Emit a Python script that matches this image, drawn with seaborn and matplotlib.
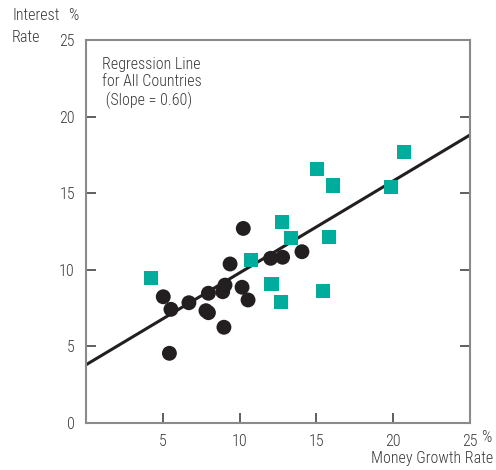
import matplotlib
matplotlib.use("Agg")
import matplotlib.pyplot as plt
import seaborn as sns
import numpy as np
import pandas as pd

# Data
circle_x = [10.24, 5.03, 5.53, 6.7, 7.97, 7.81, 7.97, 8.98, 5.43, 9.38, 9.05, 8.9, 10.16, 10.55, 12.02, 12.8, 14.06]
circle_y = [12.7, 8.24, 7.42, 7.85, 8.47, 7.33, 7.2, 6.25, 4.55, 10.38, 9.0, 8.57, 8.86, 8.03, 10.75, 10.82, 11.18]
square_x = [4.23, 10.74, 12.07, 12.72, 12.78, 13.37, 15.06, 16.1, 15.82, 15.45, 19.88, 20.72]
square_y = [9.46, 10.64, 9.07, 7.9, 13.12, 12.06, 16.56, 15.5, 12.12, 8.6, 15.39, 17.67]
reg_intercept = 3.8
reg_slope = 0.60
x_ticks = [5, 10, 15, 20, 25]
x_tick_labels = ["5", "10", "15", "20", "25"]
y_ticks = [0, 5, 10, 15, 20, 25]

sns.set_style("white")
plt.rcParams['font.family'] = ['Roboto Condensed', 'DejaVu Sans']
plt.rcParams['font.weight'] = 'light'

text_color = "#3a3a3a"
spine_color = "#8a8a8a"
fs = 11.5

fig = plt.figure(figsize=(4.96, 4.70), dpi=100)
ax = fig.add_axes([86/496, 47/470, 384/496, 383/470])

df_c = pd.DataFrame({"x": circle_x, "y": circle_y})
df_s = pd.DataFrame({"x": square_x, "y": square_y})

line_x = np.array([0, 25])
df_l = pd.DataFrame({"x": line_x, "y": reg_intercept + reg_slope * line_x})
sns.lineplot(data=df_l, x="x", y="y", ax=ax, color="#231f20", linewidth=2.2, zorder=2)
sns.scatterplot(data=df_c, x="x", y="y", ax=ax, color="#231f20", marker="o", s=115,
                edgecolor="none", zorder=3)
sns.scatterplot(data=df_s, x="x", y="y", ax=ax, color="#00ad9c", marker="s", s=105,
                edgecolor="none", zorder=3)

ax.set_xlim(0, 25)
ax.set_ylim(0, 25)
ax.set_xticks(x_ticks)
ax.set_xticklabels(x_tick_labels)
ax.set_yticks(y_ticks)
ax.set_xlabel("")
ax.set_ylabel("")

for s in ax.spines.values():
    s.set_visible(True)
    s.set_color(spine_color)
    s.set_linewidth(1.5)

ax.tick_params(axis="both", direction="in", length=7, width=1.2, color="#444444",
               labelsize=fs, labelcolor=text_color, pad=8)
ax.tick_params(axis="y", right=True, left=True)
ax.tick_params(axis="x", bottom=True, top=False)

fig.text(486/496, 1 - 438/470, "%", fontsize=fs, color=text_color, va="center", ha="center")
fig.text(12/496, 1 - 16/470, "Interest", fontsize=fs, color=text_color, va="center", ha="left")
fig.text(68/496, 1 - 16/470, "%", fontsize=fs, color=text_color, va="center", ha="left")
fig.text(12/496, 1 - 37/470, "Rate", fontsize=fs, color=text_color, va="center", ha="left")
fig.text(493/496, 1 - 458/470, "Money Growth Rate", fontsize=fs, color=text_color,
         va="center", ha="right")

ax.text(1.05, 23.9, "Regression Line\nfor All Countries\n (Slope = 0.60)", fontsize=fs,
        color=text_color, va="top", ha="left", linespacing=1.2)

fig.savefig("out.png", dpi=100)
